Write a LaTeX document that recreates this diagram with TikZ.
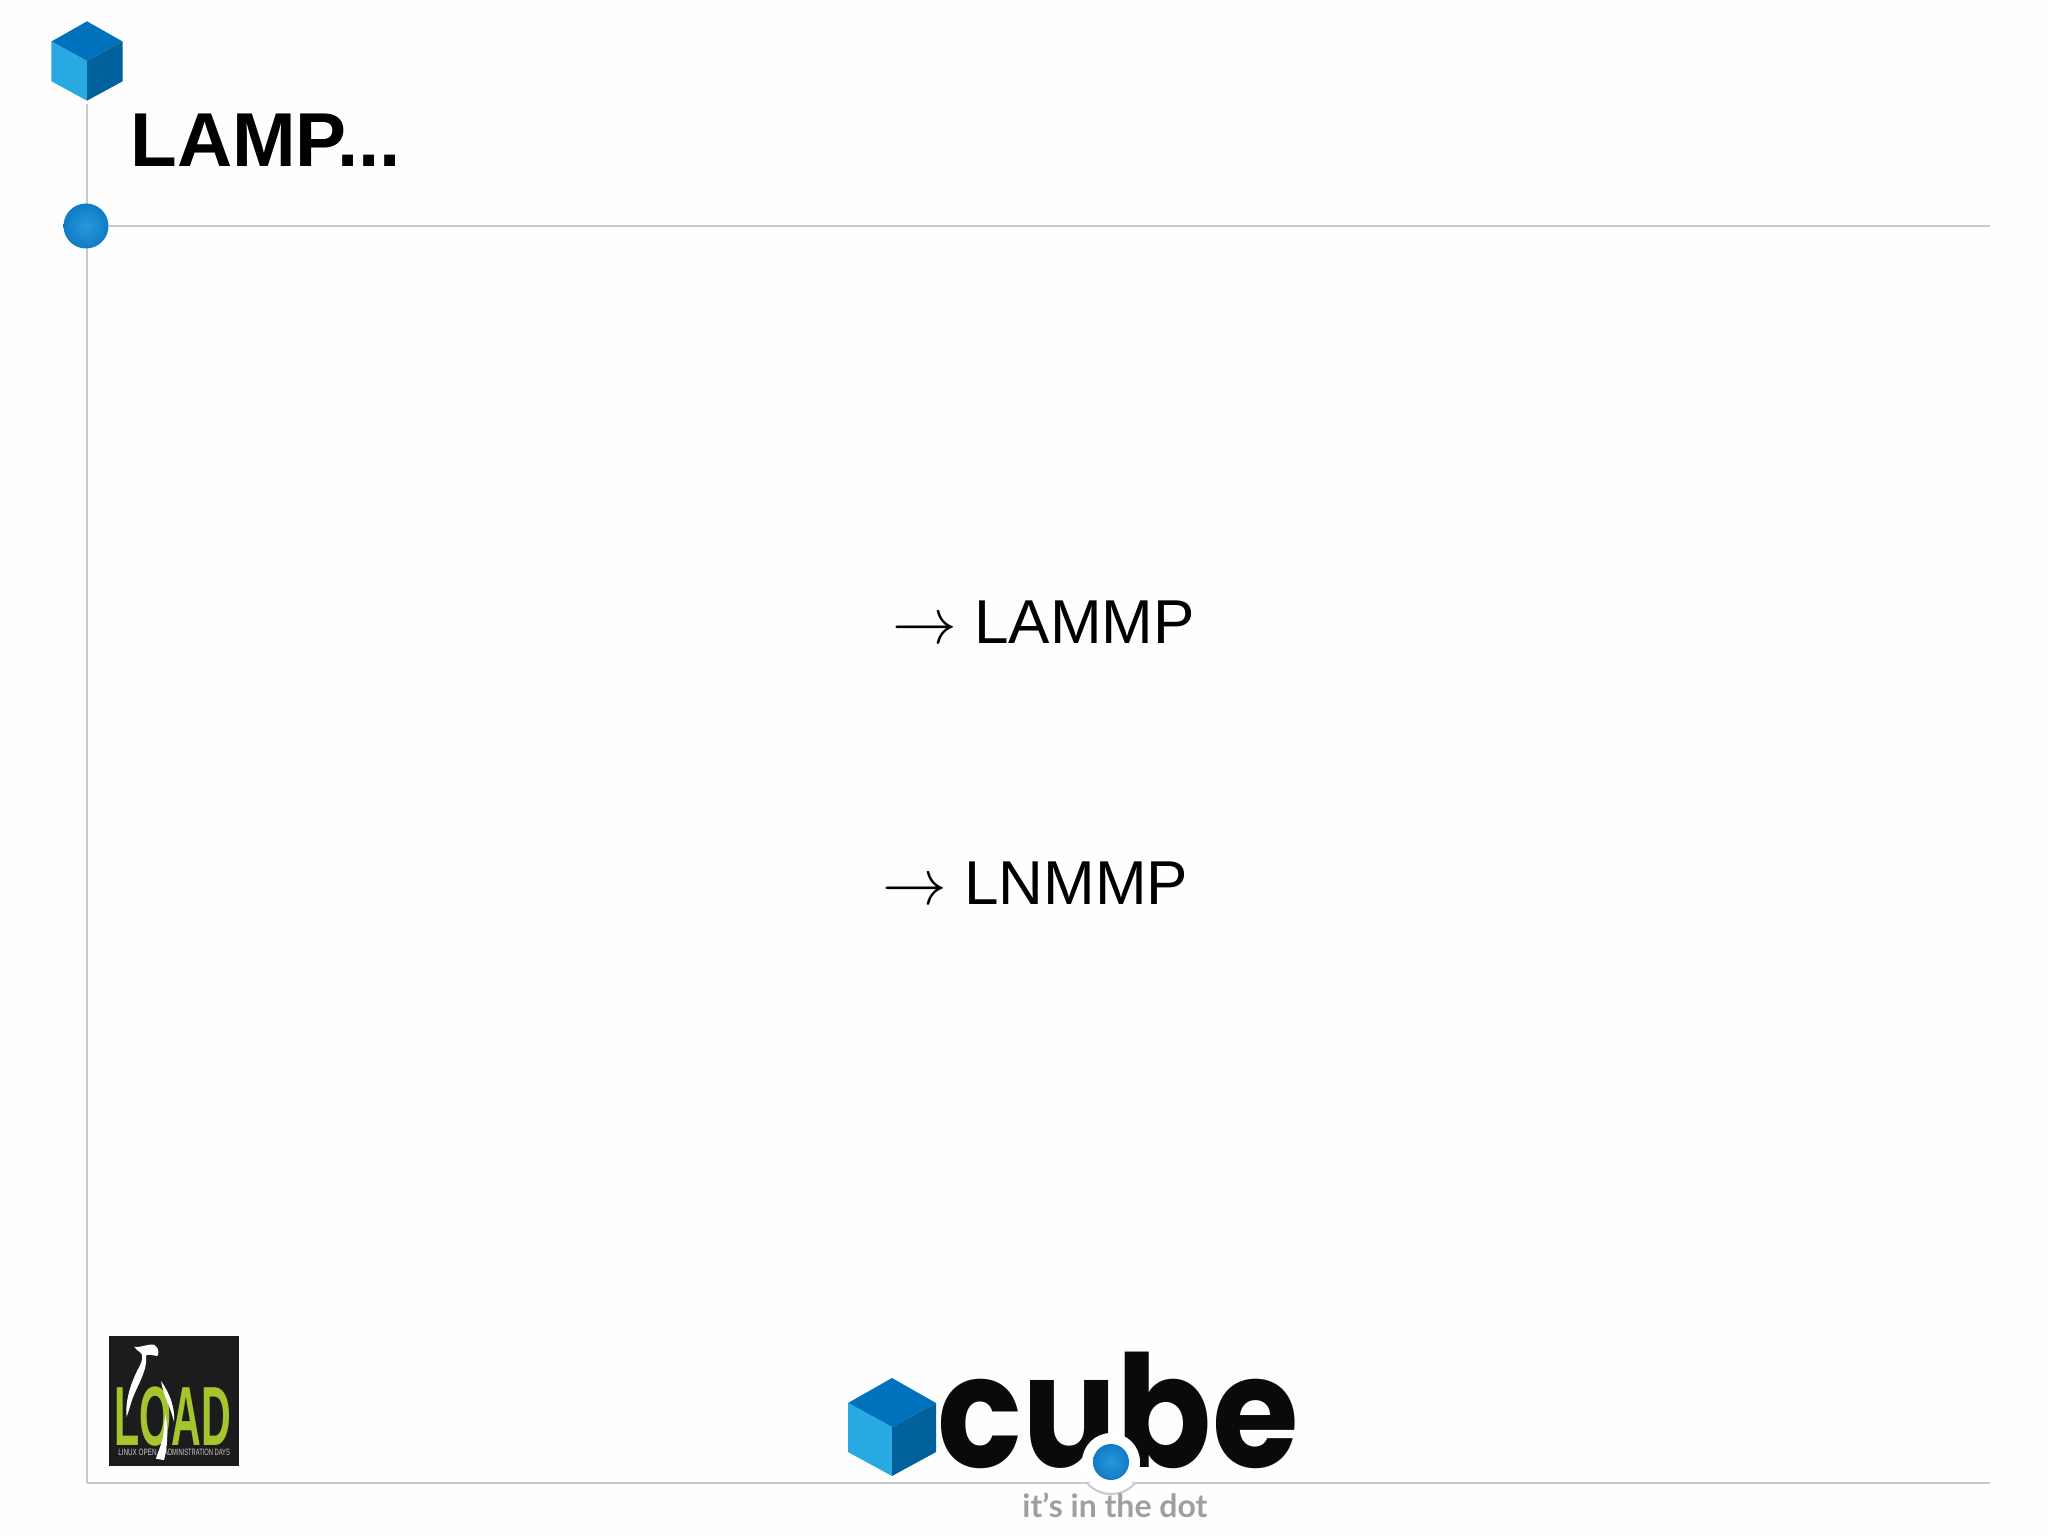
\documentclass[tikz,border=0pt]{standalone}
\usepackage{fontspec}
\setmainfont{Liberation Sans}
\newfontfamily\logofont{Poppins}
\newfontfamily\slogfont{Lato}
\definecolor{rulegray}{HTML}{C9C9C9}
\definecolor{cubetop}{HTML}{0071BC}
\definecolor{cubeleft}{HTML}{29A9E2}
\definecolor{cuberight}{HTML}{00619C}
\definecolor{dotinner}{HTML}{2C97D8}
\definecolor{dotouter}{HTML}{0E7CC6}
\definecolor{loadgreen}{HTML}{A4C52E}
\definecolor{loadblack}{HTML}{1C1C1C}
\newcommand{\slidearrow}{\scalebox{1.3}{$\rightarrow$}}
\tikzset{
	rule/.style={rulegray,line width=1pt},
	slideline/.style={inner sep=0pt,anchor=base west,font=\fontsize{31}{37}\selectfont},
	bluedot/.style={circle,inner sep=0pt,minimum size=#1,inner color=dotinner,outer color=dotouter},
	loadtiny/.style={inner sep=0pt,anchor=base west,white!80!black,font=\fontsize{4.6}{5}\selectfont},
}
\begin{document}
\begin{tikzpicture}[x=0.5pt,y=-0.5pt]
	\useasboundingbox[fill=white!99.5!black] (0,0) rectangle (2048,1535);

	\coordinate (vtop) at (87,104);
	\coordinate (vbot) at (87,1483);
	\coordinate (hend) at (1990,226);
	\coordinate (bend) at (1990,1483);
	\draw[rule] (vtop) -- (vbot);
	\draw[rule] (vbot) -- (bend);
	\node[bluedot=22.5pt] (dot) at (86,226) {};
	\draw[rule] (dot) -- (hend);

	% the two cubes
	\foreach \cx/\cy/\cs in {87/61/0.81,892/1427/1}{
		\begin{scope}[shift={(\cx,\cy)},scale=\cs]
			\fill[cubetop] (0,-49) -- (44,-24) -- (0,0) -- (-44,-24) -- cycle;
			\fill[cubeleft] (-44,-24) -- (0,0) -- (0,49) -- (-44,25) -- cycle;
			\fill[cuberight] (44,-24) -- (0,0) -- (0,49) -- (44,25) -- cycle;
		\end{scope}
	}

	\node[inner sep=0pt,anchor=base west,font=\fontsize{38.2}{45}\selectfont\bfseries] (title) at (130,167) {LAMP...};
	\node[slideline] (lammp) at (892,643) {\slidearrow{} LAMMP};
	\node[slideline] (lnmmp) at (882,904) {\slidearrow{} LNMMP};

	% load logo
	\node[fill=loadblack,inner sep=0pt,minimum size=65pt] (load) at (174,1401) {};
	\node[inner sep=0pt,anchor=base west,loadgreen,xscale=0.49,font=\fontsize{42}{50}\selectfont\bfseries] (loadtext) at (114,1445) {LOAD};
	\node[loadtiny,xscale=0.69] (loadleft) at (118,1455) {LINUX OPEN};
	\node[loadtiny,xscale=0.625] (loadright) at (164,1455) {ADMINISTRATION DAYS};
	\begin{scope}[shift={(80,1320)},x=0.1667pt,y=-0.1667pt]
		\fill[white] (162,80) .. controls (185,84) and (205,70) .. (222,74) .. controls (236,82) and (238,98) .. (232,108) .. controls (218,106) and (206,102) .. (198,106) .. controls (204,150) and (172,195) .. (156,240) .. controls (150,258) and (146,275) .. (140,290) .. controls (134,240) and (156,180) .. (178,140) .. controls (188,122) and (188,108) .. (184,100) .. controls (176,96) and (170,88) .. (162,80) -- cycle;
		\fill[white] (243,183) .. controls (266,215) and (286,260) .. (282,305) .. controls (272,262) and (250,228) .. (243,183) -- cycle;
		\fill[white] (256,283) .. controls (266,330) and (262,385) .. (252,420) -- (228,416) .. controls (234,395) and (246,370) .. (250,345) .. controls (253,325) and (252,305) .. (256,283) -- cycle;
	\end{scope}

	% cube logo
	\node[inner sep=0pt,anchor=base west,xscale=0.9,black!96,font=\logofont\fontsize{78}{90}\selectfont\bfseries] (cube) at (937,1467) {cube};
	\node[inner sep=0pt,circle,minimum size=29pt,fill=white] (halo) at (1111,1462) {};
	\node[bluedot=18pt] (cubedot) at (1111,1462) {};
	\fill[white] (1087,1483) rectangle (1135,1486);
	\draw[rule] (1087,1483) arc[start angle=139,end angle=41,radius=32];
	\node[inner sep=0pt,anchor=base west,gray!75,font=\slogfont\fontsize{16}{20}\selectfont\bfseries] (slogan) at (1022,1517) {it’s in the dot};
\end{tikzpicture}
\end{document}
